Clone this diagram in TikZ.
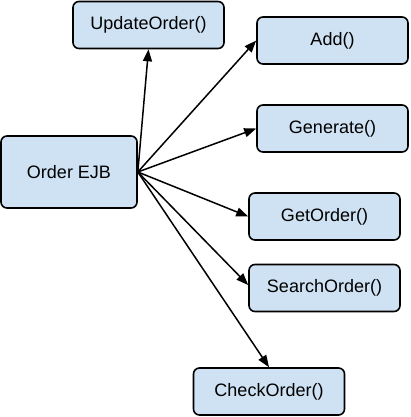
\documentclass[tikz,border=0pt]{standalone}
\usepackage{fontspec}
\setmainfont{Liberation Sans}
\usepackage{xcolor}
\usepackage{tikz}
\usetikzlibrary{arrows.meta}
\definecolor{boxblue}{HTML}{CFE2F3}

\begin{document}
\begin{tikzpicture}[x=1pt, y=-1pt,
    method/.style={rectangle, draw, line width=1.6pt, rounded corners=6pt,
                   fill=boxblue, align=center, inner sep=0pt,
                   font=\fontsize{18}{22}\selectfont,
                   minimum width=151pt, minimum height=47pt},
    arrow/.style={-{Triangle[length=12pt, width=9pt]}, line width=1.5pt}]
  \useasboundingbox (0,0) rectangle (410,417);
  \node[method, minimum width=136pt, minimum height=72pt] (ejb) at (69,172) {Order EJB};
  \node[method] (update) at (148.5,25) {UpdateOrder()};
  \node[method] (add) at (332.5,40.5) {Add()};
  \node[method] (gen) at (332.5,128.5) {Generate()};
  \node[method] (get) at (324.5,216.5) {GetOrder()};
  \node[method] (search) at (324.5,288) {SearchOrder()};
  \node[method] (check) at (269,391.5) {CheckOrder()};
  \draw[arrow] (ejb.east) -- (update.south);
  \draw[arrow] (ejb.east) -- (add.west);
  \draw[arrow] (ejb.east) -- (gen.west);
  \draw[arrow] (ejb.east) -- (get.west);
  \draw[arrow] (ejb.east) -- ([yshift=3pt]search.west);
  \draw[arrow] (ejb.east) -- (check.north);
\end{tikzpicture}
\end{document}
